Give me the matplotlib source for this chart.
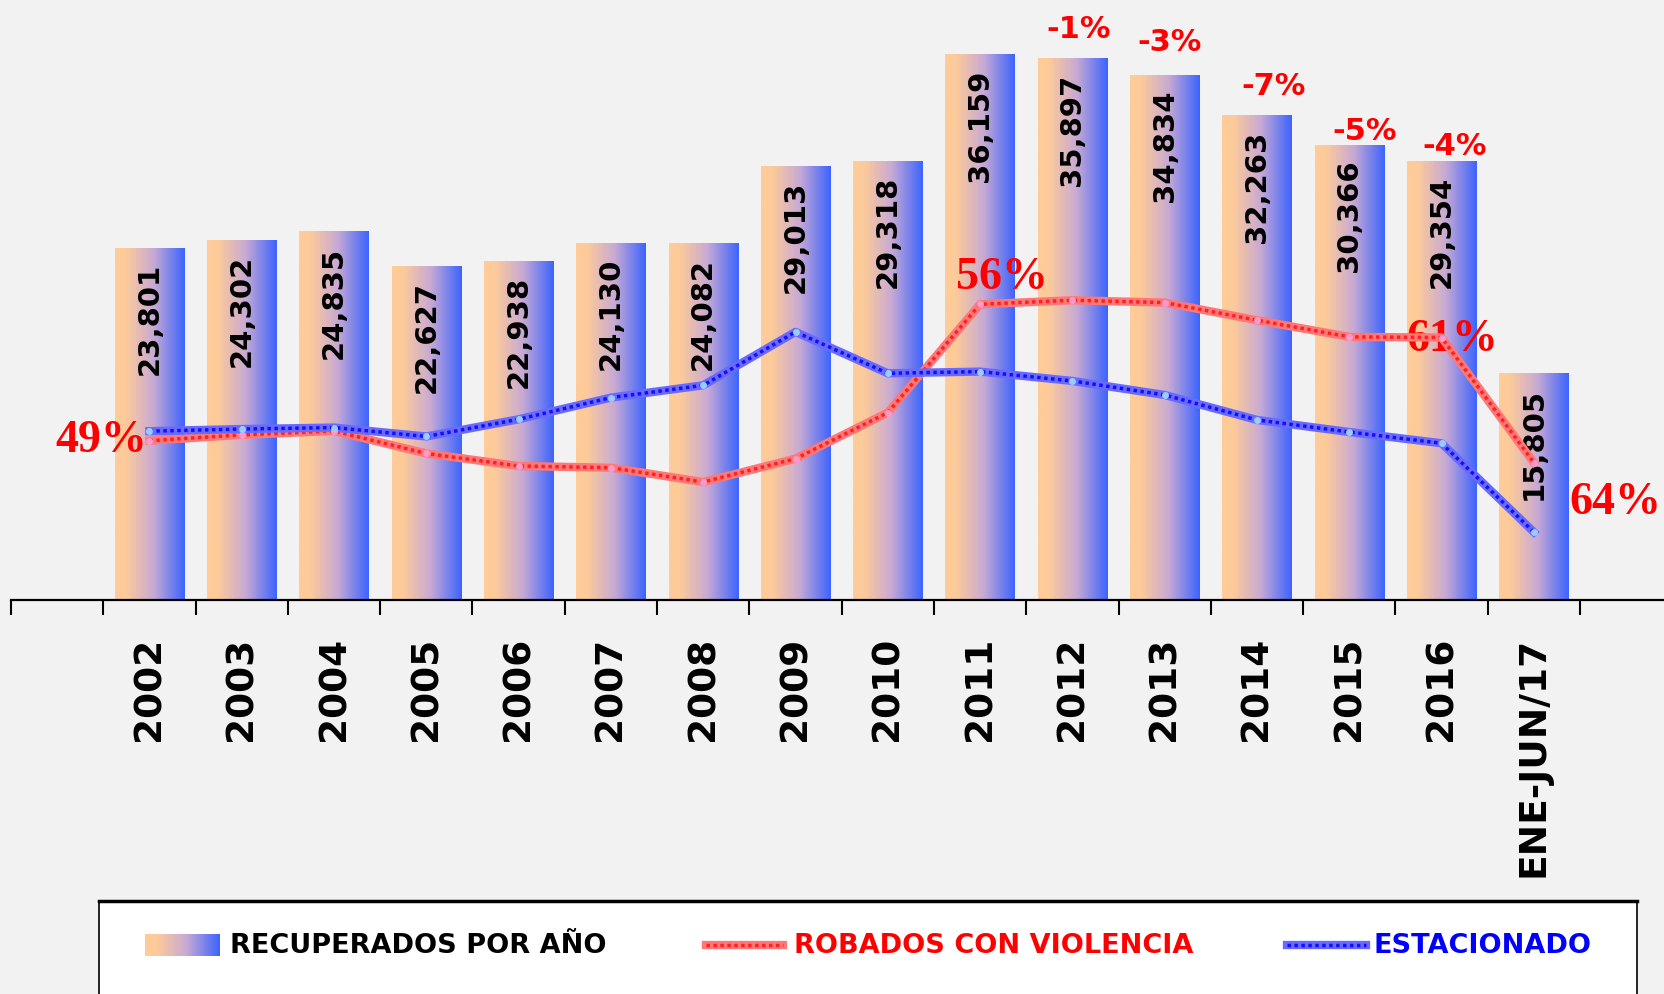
import numpy as np
import matplotlib
matplotlib.use("Agg")
import matplotlib.pyplot as plt
from matplotlib.lines import Line2D
from matplotlib import font_manager

# data
years = ["2002", "2003", "2004", "2005", "2006", "2007", "2008", "2009",
         "2010", "2011", "2012", "2013", "2014", "2015", "2016", "ENE-JUN/17"]
recuperados = [23801, 24302, 24835, 22627, 22938, 24130, 24082, 29013,
               29318, 36159, 35897, 34834, 32263, 30366, 29354, 15805]
# line series (same units as the bars)
robados_violencia = [11239, 11626, 11886, 10394, 9564, 9451, 8501, 10049,
                     13103, 20281, 20549, 20394, 19226, 18121, 18079, 9789]
estacionado = [11872, 12013, 12111, 11520, 12660, 14096, 14912, 18452,
               15707, 15820, 15201, 14272, 12617, 11816, 11070, 5186]

# percent labels for the red line
pct_idx = [0, 9, 14, 15]
pct_txt = ["49%", "56%", "61%", "64%"]
pct_y = [11309, 22076, 17994, 7185]
pct_dx = [-0.52, 0.24, 0.12, 0.88]

# yearly change labels on top of the last bars
chg_idx = [10, 11, 12, 13, 14]
chg_txt = ["-1%", "-3%", "-7%", "-5%", "-4%"]
chg_y = [37830, 37000, 34190, 31310, 30350]
chg_dx = [0.07, 0.05, 0.18, 0.17, 0.14]

BG = "#f2f2f2"
RED = "#ff0000"
BLUE = "#0000ff"
YMIN, YMAX = 1290, 39690

# narrow font for the legend if one is installed
names = {f.name for f in font_manager.fontManager.ttflist}
leg_font = [n for n in ["Liberation Sans Narrow", "DejaVu Sans Condensed"] if n in names] + ["DejaVu Sans"]
leg_size = 21 if len(leg_font) > 1 else 19.5

W, H = 1664, 995
fig = plt.figure(figsize=(W / 100, H / 100), dpi=100, facecolor=BG)

ax = fig.add_axes([11 / W, (H - 601) / H, 1 - 11 / W, 601 / H])
ax.set_facecolor(BG)
x = np.arange(1, len(years) + 1)

# gradient for the bars
stops = [(0.0, (255, 204, 153)), (0.15, (253, 203, 153)),
         (0.55, (200, 170, 212)), (1.0, (60, 100, 255))]
t = np.linspace(0, 1, 256)
grad = np.zeros((1, 256, 3))
for c in range(3):
    grad[0, :, c] = np.interp(t, [s[0] for s in stops], [s[1][c] / 255 for s in stops])

heights = np.array(recuperados) - YMIN
bars = ax.bar(x, heights, bottom=YMIN, width=0.75, color="none", edgecolor="none")
for b in bars:
    x0, y0 = b.get_x(), b.get_y()
    im = ax.imshow(grad, extent=[x0, x0 + b.get_width(), y0, y0 + b.get_height()],
                   aspect="auto", interpolation="bilinear", zorder=1)
    im.set_clip_path(b)
ax.set_xlim(-0.5, 17.41)
ax.set_ylim(YMIN, YMAX)

for xi, v in zip(x, recuperados):
    ax.annotate(f"{v:,}", xy=(xi, v), xytext=(0, -10), textcoords="offset points",
                rotation=90, ha="center", va="top", fontsize=21,
                fontweight="heavy", color="black", zorder=3)

for i, s, yv, dx in zip(chg_idx, chg_txt, chg_y, chg_dx):
    ax.text(x[i] + dx, yv, s, ha="center", va="center", fontsize=22,
            fontweight="bold", color=RED, zorder=3)

# axis styling
for side in ["left", "right", "top"]:
    ax.spines[side].set_visible(False)
ax.spines["bottom"].set_linewidth(1.6)
ax.set_yticks([])
ax.set_xticks(x)
ax.set_xticklabels(years, rotation=90, fontsize=27, fontweight="bold")
ax.set_xticks(np.arange(-0.5, 17, 1.0), minor=True)
ax.tick_params(axis="x", which="major", length=0, pad=26)
ax.tick_params(axis="x", which="minor", length=11, width=1.5, direction="out")

# lines on a second scale
ax2 = ax.twinx()
ax2.set_ylim(683, 40514)
ax2.axis("off")

ax2.plot(x, robados_violencia, color="#ff7878", lw=6, solid_joinstyle="round", zorder=3)
ax2.plot(x, robados_violencia, color="#ff2020", lw=2.5, ls=(0, (1, 1)), zorder=3)
ax2.plot(x, robados_violencia, ls="none", marker="o", ms=4, color="#ff99cc", zorder=4)
ax2.plot(x, estacionado, color="#6a6aff", lw=6, solid_joinstyle="round", zorder=3)
ax2.plot(x, estacionado, color="#1010ff", lw=2.5, ls=(0, (1, 1)), zorder=3)
ax2.plot(x, estacionado, ls="none", marker="o", ms=4, color="#99ccff", zorder=4)

for i, s, yv, dx in zip(pct_idx, pct_txt, pct_y, pct_dx):
    ax2.text(x[i] + dx, yv, s, ha="center", va="center", fontsize=33,
             fontweight="bold", family=["Liberation Serif", "DejaVu Serif"],
             color=RED, zorder=2)

# legend box
lg = fig.add_axes([99 / W, -0.05, (1637 - 99) / W, (H - 902) / H + 0.05])
lg.set_facecolor("white")
lg.set_xticks([])
lg.set_yticks([])
for side in ["left", "right"]:
    lg.spines[side].set_linewidth(1.2)
lg.spines["top"].set_linewidth(2.5)
lg.spines["bottom"].set_visible(False)

yc = 49
lg.imshow(grad, extent=[46, 121, yc - 11, yc + 11], aspect="auto", interpolation="bilinear")
lg.set_xlim(0, 1538)
lg.set_ylim(-0.05 * H, H - 902)
lg.text(131, yc, "RECUPERADOS POR AÑO", ha="left", va="center", fontsize=leg_size,
        fontweight="bold", family=leg_font, color="black")
lg.add_line(Line2D([607, 684], [yc, yc], color="#ff7878", lw=6))
lg.add_line(Line2D([607, 684], [yc, yc], color="#ff2020", lw=2.5, ls=(0, (1, 1))))
lg.text(695, yc, "ROBADOS CON VIOLENCIA", ha="left", va="center", fontsize=leg_size,
        fontweight="bold", family=leg_font, color=RED)
lg.add_line(Line2D([1188, 1267], [yc, yc], color="#6a6aff", lw=6))
lg.add_line(Line2D([1188, 1267], [yc, yc], color="#1010ff", lw=2.5, ls=(0, (1, 1))))
lg.text(1275, yc, "ESTACIONADO", ha="left", va="center", fontsize=leg_size,
        fontweight="bold", family=leg_font, color=BLUE)

fig.savefig("out.png", dpi=100, facecolor=BG)
